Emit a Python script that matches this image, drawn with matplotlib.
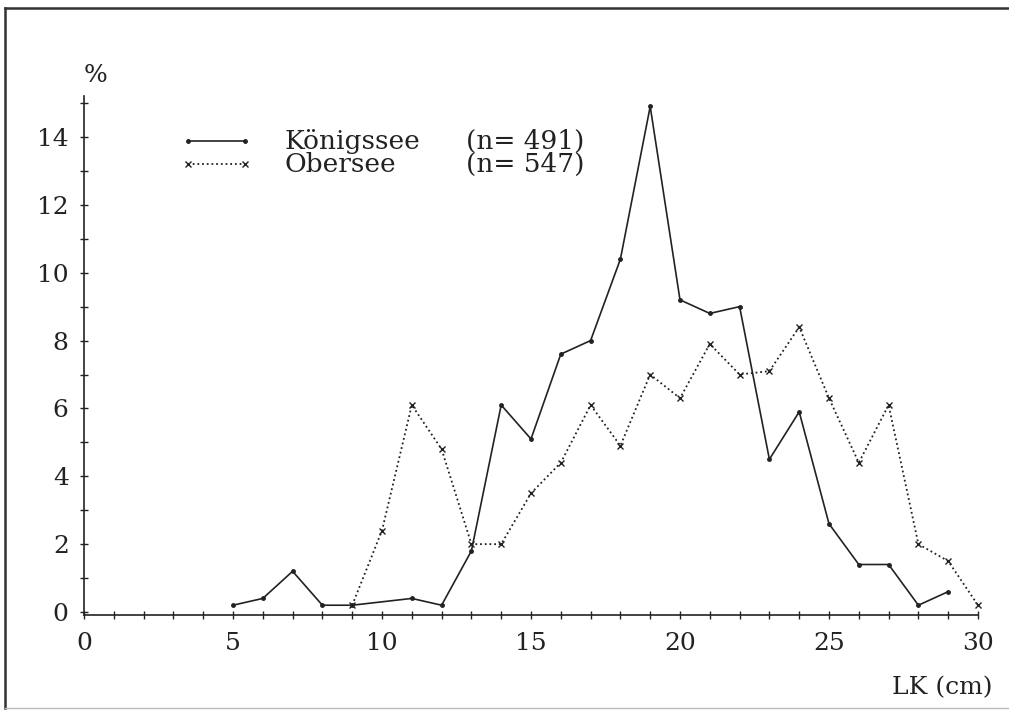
import matplotlib
matplotlib.use("Agg")
import matplotlib.pyplot as plt
from matplotlib.lines import Line2D
from matplotlib.ticker import MultipleLocator, FixedLocator

# ---- data ----
koenig_x = [5, 6, 7, 8, 9, 11, 12, 13, 14, 15, 16, 17, 18, 19, 20, 21, 22, 23, 24, 25, 26, 27, 28, 29]
koenig_y = [0.2, 0.4, 1.2, 0.2, 0.2, 0.4, 0.2, 1.8, 6.1, 5.1, 7.6, 8.0, 10.4, 14.9, 9.2, 8.8, 9.0, 4.5, 5.9, 2.6, 1.4, 1.4, 0.2, 0.6]
ober_x = [9, 10, 11, 12, 13, 14, 15, 16, 17, 18, 19, 20, 21, 22, 23, 24, 25, 26, 27, 28, 29, 30]
ober_y = [0.2, 2.4, 6.1, 4.8, 2.0, 2.0, 3.5, 4.4, 6.1, 4.9, 7.0, 6.3, 7.9, 7.0, 7.1, 8.4, 6.3, 4.4, 6.1, 2.0, 1.5, 0.2]
legend_names = ["Königssee", "Obersee"]
legend_ns = ["(n= 491)", "(n= 547)"]
x_major = [0, 5, 10, 15, 20, 25, 30]
y_major = [0, 2, 4, 6, 8, 10, 12, 14]

FONT = "DejaVu Serif"
INK = "#222222"
W, H = 1009, 716

def fx(px):
    return px / W

def fy(py):
    return 1 - py / H

fig = plt.figure(figsize=(W / 100, H / 100), dpi=100)
fig.patch.set_facecolor("white")

# axes placement (pixels): x 0 -> 84, x 30 -> 978 ; y 0 -> 612, y 14 -> 137
ppu_y = (612 - 137) / 14.0
ymin, ymax = -0.1, 15.2
bottom_px = 612 + (0 - ymin) * ppu_y
top_px = 612 - ymax * ppu_y
ax = fig.add_axes([fx(84), fy(bottom_px), fx(978) - fx(84), (bottom_px - top_px) / H])
ax.set_xlim(0, 30)
ax.set_ylim(ymin, ymax)
ax.patch.set_alpha(0)

for s in ["top", "right"]:
    ax.spines[s].set_visible(False)
for s in ["left", "bottom"]:
    ax.spines[s].set_color(INK)
    ax.spines[s].set_linewidth(1.2)

ax.plot(koenig_x, koenig_y, color=INK, lw=1.2, ls="-", marker="o", ms=2.5,
        mfc=INK, mec=INK, clip_on=False)
ax.plot(ober_x, ober_y, color=INK, lw=1.3, ls=(0, (1, 1.6)), marker="x", ms=4.5,
        mew=1.0, mec=INK, clip_on=False)

ax.xaxis.set_major_locator(FixedLocator(x_major))
ax.xaxis.set_minor_locator(MultipleLocator(1))
ax.yaxis.set_major_locator(FixedLocator(y_major))
ax.yaxis.set_minor_locator(MultipleLocator(1))
ax.tick_params(which="both", direction="inout", length=6, width=1.0, color=INK)
ax.tick_params(axis="x", which="major", pad=9, labelsize=18, labelcolor=INK)
ax.tick_params(axis="y", which="major", pad=8, labelsize=18, labelcolor=INK)
for lab in ax.get_xticklabels() + ax.get_yticklabels():
    lab.set_family(FONT)

# axis labels
fig.text(fx(84), fy(76), "%", family=FONT, fontsize=18, color=INK, ha="left", va="center")
fig.text(fx(992), fy(688), "LK (cm)", family=FONT, fontsize=18, color=INK, ha="right", va="center")

# legend (manual)
rows_y = [141, 164]
styles = [dict(ls="-", marker="o", ms=2.5, mfc=INK, lw=1.2),
          dict(ls=(0, (1, 1.6)), marker="x", ms=4, mew=1.0, lw=1.3)]
for ry, name, n, st in zip(rows_y, legend_names, legend_ns, styles):
    fig.add_artist(Line2D([fx(188), fx(245)], [fy(ry), fy(ry)], color=INK, mec=INK, **st))
    fig.text(fx(284), fy(ry), name, family=FONT, fontsize=19, color=INK, ha="left", va="center")
    fig.text(fx(466), fy(ry), n, family=FONT, fontsize=19, color=INK, ha="left", va="center")

# page frame
fig.add_artist(Line2D([fx(5), fx(1009)], [fy(8), fy(8)], color="#333333", lw=1.8))
fig.add_artist(Line2D([fx(5), fx(5)], [fy(8), fy(708)], color="#333333", lw=1.8))
fig.add_artist(Line2D([fx(5), fx(1009)], [fy(708), fy(708)], color="#bbbbbb", lw=1.0))

fig.savefig("out.png", dpi=100, facecolor="white")
